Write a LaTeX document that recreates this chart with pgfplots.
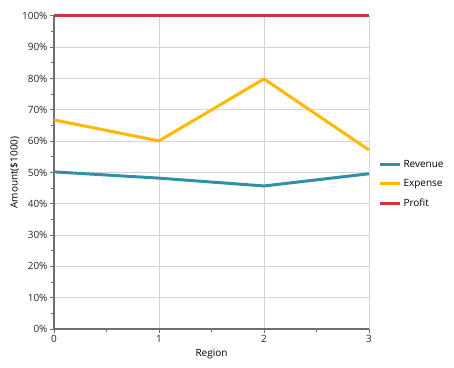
\documentclass[border=0pt]{standalone}
\usepackage{fontspec}
\setmainfont{Open Sans}
\usepackage{pgfplots}
\pgfplotsset{compat=1.18}
\definecolor{rev}{HTML}{3290A6}
\definecolor{exp}{HTML}{FFB900}
\definecolor{prof}{HTML}{D13438}
\definecolor{axc}{HTML}{6E6E6E}
\definecolor{gridc}{HTML}{D4D4D4}
\begin{document}
\begin{tikzpicture}
\useasboundingbox (-54pt,-38pt) rectangle (400pt,329pt);
\begin{axis}[
  at={(0,0)}, anchor=south west,
  scale only axis, width=315pt, height=313pt,
  xmin=0, xmax=3, ymin=0, ymax=100,
  axis x line*=bottom, axis y line*=left,
  axis line style={axc, line width=1.5pt},
  xtick={0,1,2,3}, ytick={0,10,...,100},
  minor x tick num=1, minor y tick num=1,
  tick align=outside,
  major tick length=4pt, minor tick length=3pt,
  tick style={axc, line width=1pt},
  xmajorgrids, ymajorgrids,
  major grid style={gridc, line width=0.8pt},
  yticklabel={\pgfmathprintnumber{\tick}\%},
  /pgf/number format/assume math mode=true,
  tick label style={font=\fontsize{10}{12}\selectfont, text=black!85},
  xticklabel style={yshift=1pt},
  yticklabel style={xshift=1pt},
  xlabel={Region}, ylabel={Amount(\$1000)},
  label style={font=\fontsize{10}{12}\selectfont},
  xlabel style={yshift=1pt},
  ylabel style={yshift=-4pt},
  legend style={at={(1.02,0.463)}, anchor=west, draw=none, fill=none,
    font=\fontsize{10}{12}\selectfont, row sep=7pt},
  legend cell align=left,
  legend image code/.code={\draw[#1, line width=3pt] (0pt,0pt) -- (20pt,0pt);},
  clip=false,
]
\addplot[rev, line width=3pt] coordinates {(0,50.2) (1,48.2) (2,45.7) (3,49.6)};
\addlegendentry{Revenue}
\addplot[exp, line width=3pt] coordinates {(0,66.8) (1,60.1) (2,79.9) (3,57.2)};
\addlegendentry{Expense}
\addplot[prof, line width=3pt] coordinates {(0,100) (1,100) (2,100) (3,100)};
\addlegendentry{Profit}
\end{axis}
\end{tikzpicture}
\end{document}
